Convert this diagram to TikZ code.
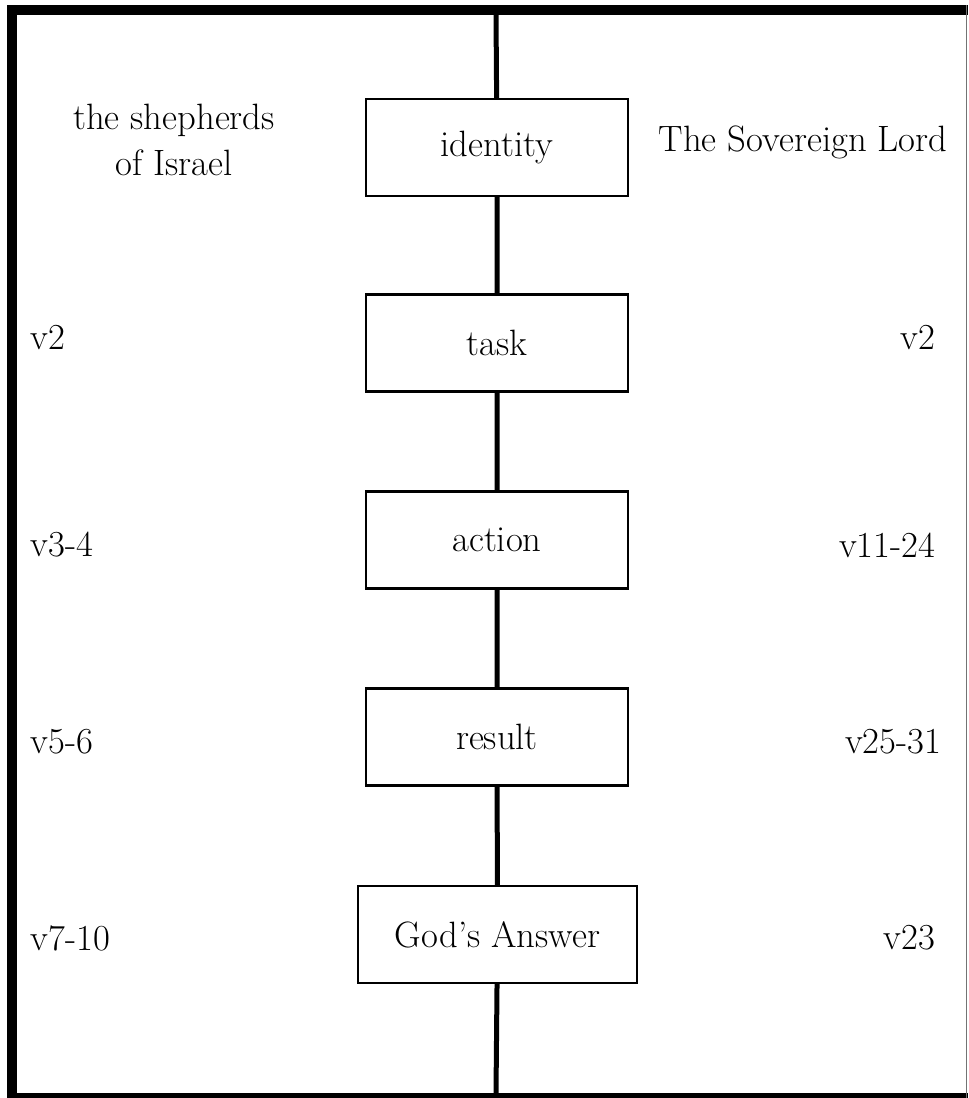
\documentclass[tikz,border=0pt]{standalone}
\usepackage{tikz}
\usetikzlibrary{positioning}

\begin{document}
\begin{tikzpicture}[
    x=0.75pt, y=-0.75pt,
    stage/.style={rectangle, draw=black, fill=white, line width=1.8pt,
                  minimum width=196.5pt, minimum height=72.75pt,
                  font=\fontsize{27.5}{32}\selectfont},
    lbl/.style={font=\fontsize{27.5}{34}\selectfont, align=center},
    spine/.style={line width=3.75pt}
  ]
  \useasboundingbox (0,0) rectangle (968,1098);
  % frame
  \fill[black] (7,5) rectangle (17,1098);
  \fill[black] (7,5) rectangle (968,15);
  \fill[black] (7,1093) rectangle (968,1098);
  \draw[black!55, line width=1pt] (966.5,5) -- (966.5,1098);
  % centre line
  \coordinate (top) at (496,15);
  \coordinate (bot) at (496,1093);
  \node[stage] (identity) at (497,147.5) {identity};
  \node[stage] (task)     at (497,343)   {task};
  \node[stage] (action)   at (497,540)   {action};
  \node[stage] (result)   at (497,737)   {result};
  \node[stage, minimum width=209pt] (answer) at (497.5,934.5) {God's Answer};
  \draw[spine] (top)--(identity) (identity)--(task) (task)--(action)
        (action)--(result) (result)--(answer) (answer)--(bot);
  % left column
  \node[lbl] (shep) at (174,140) {the shepherds\\of Israel};
  \node[lbl, anchor=west] (l2)  at (26,338) {v2};
  \node[lbl, anchor=west] (l34) at (26,545) {v3-4};
  \node[lbl, anchor=west] (l56) at (26,742) {v5-6};
  \node[lbl, anchor=west] (l710) at (26,938) {v7-10};
  % right column
  \node[lbl] (lord) at (803,142) {The Sovereign Lord};
  \node[lbl, anchor=east] (r2)    at (940,338) {v2};
  \node[lbl, anchor=east] (r1124) at (940,545) {v11-24};
  \node[lbl, anchor=east] (r2531) at (946,742) {v25-31};
  \node[lbl, anchor=east] (r23)   at (940,938) {v23};
\end{tikzpicture}
\end{document}
